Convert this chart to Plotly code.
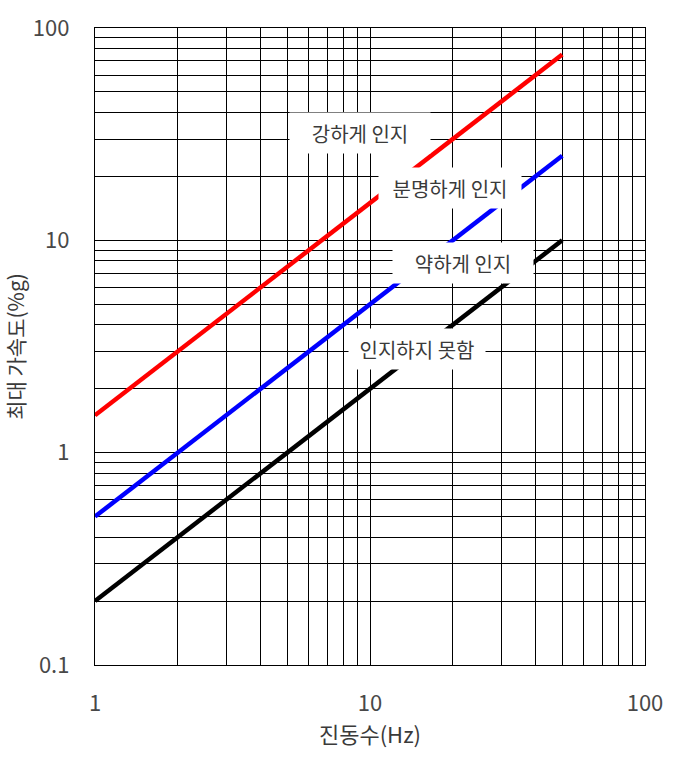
import plotly.graph_objects as go

freq = [1, 50]
strong = [1.5, 75]
clear = [0.5, 25]
weak = [0.2, 10]

labels = ["강하게 인지", "분명하게 인지", "약하게 인지", "인지하지 못함"]
x_ticks = [1, 10, 100]
x_ticktext = ["1", "10", "100"]
y_ticks = [0.1, 1, 10, 100]
y_ticktext = ["0.1", "1", "10", "100"]

x_minor = [m * 10 ** d for d in range(0, 2) for m in range(2, 10)]
y_minor = [m * 10 ** d for d in range(-1, 2) for m in range(2, 10)]

FONT = "Noto Sans CJK KR"

fig = go.Figure()
fig.add_trace(go.Scatter(x=freq, y=clear, mode="lines", line=dict(color="#0000ff", width=4.5), showlegend=False))
fig.add_trace(go.Scatter(x=freq, y=weak, mode="lines", line=dict(color="#000000", width=4.5), showlegend=False))
fig.add_trace(go.Scatter(x=freq, y=strong, mode="lines", line=dict(color="#ff0000", width=4.5), showlegend=False))

ann_pos = [(0.482, 0.835), (0.645, 0.749), (0.669, 0.631), (0.585, 0.496)]
ann_w = [140, 142, 140, 136]
for text, (ax, ay), w in zip(labels, ann_pos, ann_w):
    fig.add_annotation(x=ax, y=ay, xref="paper", yref="paper", text=text, showarrow=False,
                       xanchor="center", yanchor="middle",
                       font=dict(family=FONT, size=20, color="#3a3a3a"),
                       bgcolor="white", width=w, height=40, borderpad=0)

grid = dict(showgrid=True, gridcolor="black", gridwidth=1.3)
fig.update_xaxes(type="log", range=[0, 2], tickvals=x_ticks, ticktext=x_ticktext,
                 showline=True, linecolor="black", linewidth=1.3, mirror=True,
                 ticks="", ticklabelstandoff=18, zeroline=False, automargin=False,
                 tickfont=dict(family=FONT, size=22, color="#484848"),
                 minor=dict(tickvals=x_minor, showgrid=True, gridcolor="black", gridwidth=1.3, ticks=""),
                 title=dict(text="진동수(Hz)", font=dict(family=FONT, size=22, color="#3a3a3a"), standoff=4),
                 **grid)
fig.update_yaxes(type="log", range=[-1, 2], tickvals=y_ticks, ticktext=y_ticktext,
                 showline=True, linecolor="black", linewidth=1.3, mirror=True,
                 ticks="", ticklabelstandoff=20, zeroline=False, automargin=False,
                 tickfont=dict(family=FONT, size=22, color="#484848"),
                 minor=dict(tickvals=y_minor, showgrid=True, gridcolor="black", gridwidth=1.3, ticks=""),
                 title=dict(text="최대 가속도(%g)", font=dict(family=FONT, size=21, color="#3a3a3a"), standoff=2),
                 **grid)

fig.update_layout(width=674, height=759, margin=dict(l=95, r=29, t=28, b=94),
                  plot_bgcolor="white", paper_bgcolor="white")
fig.write_html("out.html")
